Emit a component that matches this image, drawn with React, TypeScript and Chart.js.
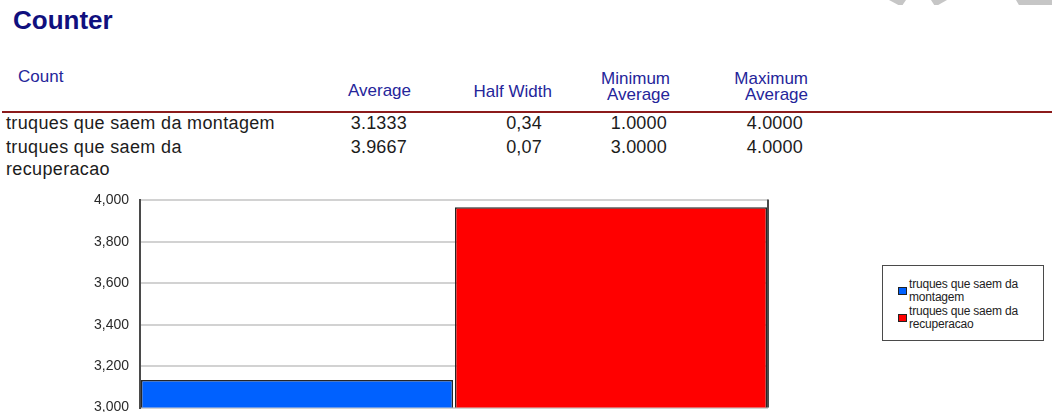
import React, { useEffect, useRef } from 'react';
import { Chart, registerables } from 'chart.js';

Chart.register(...registerables);

// ---- data ----
const title = 'Counter';
const sectionLabel = 'Count';
const columnHeaders = [['Average'], ['Half Width'], ['Minimum', 'Average'], ['Maximum', 'Average']];
const rowLabels = [['truques que saem da montagem'], ['truques que saem da', 'recuperacao']];
const seriesNames = [['truques que saem da', 'montagem'], ['truques que saem da', 'recuperacao']];
const averages = [3.1333, 3.9667];
const halfWidths = ['0,34', '0,07'];
const minAverages = [1.0, 3.0];
const maxAverages = [4.0, 4.0];
const barColors = ['#0061ff', '#ff0000'];
const yMin = 3.0;
const yMax = 4.0;
const yStep = 0.2;

const rowFont = '"Liberation Sans", Arial, sans-serif';

const rightBorderPlugin = {
  id: 'rightBorder',
  afterDraw(chart: any) {
    const { ctx, chartArea } = chart;
    ctx.save();
    ctx.strokeStyle = '#4a4a4a';
    ctx.lineWidth = 2;
    ctx.beginPath();
    ctx.moveTo(chartArea.right, chartArea.top - 1);
    ctx.lineTo(chartArea.right, chartArea.bottom);
    ctx.stroke();
    ctx.restore();
  },
};

function Txt(props: { x: number; top: number; size: number; color: string; children: any; align?: 'left' | 'right'; bold?: boolean; ls?: number }) {
  const { x, top, size, color, children, align = 'left', bold, ls = 0 } = props;
  const style: any = {
    position: 'absolute',
    top,
    fontFamily: rowFont,
    fontSize: size,
    lineHeight: '1',
    color,
    whiteSpace: 'nowrap',
    fontWeight: bold ? 700 : 400,
    letterSpacing: ls,
  };
  if (align === 'left') style.left = x;
  else style.right = 1052 - x;
  return <div style={style}>{children}</div>;
}

export default function App() {
  const canvasRef = useRef<HTMLCanvasElement | null>(null);

  useEffect(() => {
    if (!canvasRef.current) return;
    const chart = new Chart(canvasRef.current, {
      type: 'bar',
      data: {
        labels: [''],
        datasets: averages.map((v, i) => ({
          label: seriesNames[i].join(' '),
          data: [v],
          backgroundColor: barColors[i],
          borderColor: '#262626',
          borderWidth: 1.5,
          borderSkipped: false,
          categoryPercentage: 1,
          barPercentage: 0.994,
        })),
      },
      options: {
        animation: false,
        responsive: false,
        maintainAspectRatio: false,
        layout: { padding: { left: 0, right: 32, top: 14, bottom: 33.5 } },
        plugins: { legend: { display: false }, tooltip: { enabled: false } },
        scales: {
          x: { display: false },
          y: {
            min: yMin,
            max: yMax,
            ticks: {
              stepSize: yStep,
              callback: (v: any) => Number(v).toFixed(3).replace('.', ','),
              color: '#2a2a2a',
              font: { family: rowFont, size: 14 },
              padding: 11,
            },
            grid: { color: '#d2d2d2', lineWidth: 2, drawTicks: false },
            border: { color: '#4a4a4a', width: 2 },
            afterFit: (s: any) => {
              s.width = 140;
            },
          },
        },
      },
      plugins: [rightBorderPlugin],
    } as any);
    return () => chart.destroy();
  }, []);

  const headerColor = '#25259a';
  const textColor = '#1c1c1c';
  const colRight = [411, 552, 670, 808];
  const valRight = [407, 542, 667, 803];
  const rowBase = [129.5, 153];
  const fmt4 = (n: number) => n.toFixed(4);

  return (
    <div style={{ position: 'fixed', left: 0, top: 0, width: 1052, height: 412, overflow: 'hidden', background: '#fff' }}>
      {/* faint watermark fragments at top right */}
      <div style={{ position: 'absolute', left: 889, top: 0, width: 17, height: 5, background: '#c6c6c6', clipPath: 'polygon(0 0, 100% 0, 80% 100%, 55% 100%)' }} />
      <div style={{ position: 'absolute', left: 931, top: 0, width: 16, height: 5, background: '#c6c6c6', clipPath: 'polygon(0 0, 100% 0, 45% 100%, 20% 100%)' }} />
      <div style={{ position: 'absolute', left: 1016, top: 0, width: 36, height: 5, background: '#c6c6c6', clipPath: 'polygon(0 0, 100% 0, 100% 100%, 8% 100%)' }} />

      <Txt x={13} top={7.3} size={26} color="#10107e" bold>{title}</Txt>
      <Txt x={18} top={82.7 - 14.4} size={17} color={headerColor}>{sectionLabel}</Txt>

      {columnHeaders.map((lines, ci) =>
        lines.map((line, li) => {
          const base = lines.length === 1 ? (ci === 0 ? 96.5 : 97.5) : li === 0 ? 84 : 100.5;
          return (
            <Txt key={`h${ci}-${li}`} x={colRight[ci]} top={base - 14.4} size={17} color={headerColor} align="right">
              {line}
            </Txt>
          );
        })
      )}

      <div style={{ position: 'absolute', left: 2, top: 111, width: 1050, height: 2, background: '#8c1b1b' }} />

      {rowLabels.map((lines, ri) =>
        lines.map((line, li) => (
          <Txt key={`r${ri}-${li}`} x={6} top={rowBase[ri] + li * 22 - 15.2} size={18} color={textColor} ls={0.35}>
            {line}
          </Txt>
        ))
      )}

      {averages.map((v, ri) => {
        const vals = [fmt4(v), halfWidths[ri], fmt4(minAverages[ri]), fmt4(maxAverages[ri])];
        return vals.map((s, ci) => (
          <Txt key={`v${ri}-${ci}`} x={valRight[ci]} top={rowBase[ri] - 15.2} size={18} color={textColor} align="right" ls={0.2}>
            {s}
          </Txt>
        ));
      })}

      <div style={{ position: 'absolute', left: 0, top: 181, width: 800, height: 260 }}>
        <canvas ref={canvasRef} width={800} height={260} style={{ width: 800, height: 260, display: 'block' }} />
      </div>

      {/* legend */}
      <div style={{ position: 'absolute', left: 882, top: 265, width: 160, height: 74, border: '1.5px solid #4a4a4a', background: '#fff' }}>
        {seriesNames.map((lines, i) => (
          <div key={`lg${i}`}>
            <div
              style={{
                position: 'absolute',
                left: 15,
                top: 21 + i * 27,
                width: 7,
                height: 6,
                background: barColors[i],
                border: '1px solid #222',
              }}
            />
            {lines.map((line, li) => (
              <div
                key={`lgt${i}-${li}`}
                style={{
                  position: 'absolute',
                  left: 26,
                  top: 12 + i * 27 + li * 12.5,
                  fontFamily: rowFont,
                  fontSize: 12,
                  lineHeight: '12px',
                  color: '#222',
                  whiteSpace: 'nowrap',
                  letterSpacing: -0.2,
                }}
              >
                {line}
              </div>
            ))}
          </div>
        ))}
      </div>
    </div>
  );
}
